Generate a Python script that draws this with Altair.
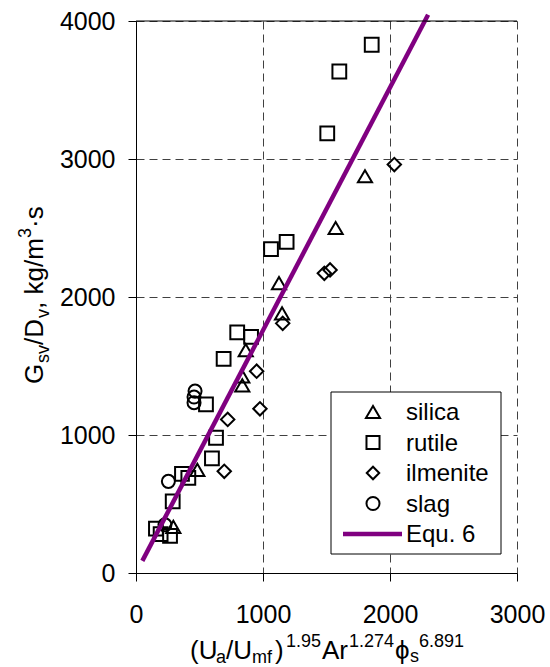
import altair as alt
import pandas as pd

# Measured points by bed material
silica_x = [294, 483, 837, 837, 864, 1126, 1150, 1572, 1803]
silica_y = [335, 747, 1360, 1425, 1615, 2100, 1881, 2500, 2875]

rutile_x = [157, 194, 268, 289, 362, 412, 598, 630, 551, 690, 797, 906, 1063, 1186, 1506, 1601, 1856]
rutile_y = [322, 281, 269, 519, 718, 689, 831, 980, 1222, 1551, 1743, 1711, 2347, 2400, 3185, 3634, 3828]

ilmenite_x = [695, 722, 950, 976, 1155, 1483, 1528, 2034]
ilmenite_y = [737, 1113, 1462, 1190, 1809, 2172, 2196, 2960]

slag_x = [228, 255, 457, 457, 465]
slag_y = [349, 664, 1234, 1275, 1318]

# Correlation line (Equ. 6), end points
equ6_x = [50, 2300]
equ6_y = [88, 4045]

materials = ["silica", "rutile", "ilmenite", "slag"]
shapes = ["triangle-up", "square", "diamond", "circle"]
sizes = [200, 170, 155, 170]
line_name = "Equ. 6"
x_ticks = [0, 1000, 2000, 3000]
y_ticks = [0, 1000, 2000, 3000, 4000]

FONT = "Liberation Sans"
W, H = 381, 552          # plot area
PX0, PY0 = 136, 21       # plot origin on the page
PURPLE = "#800080"

rows = []
for name, xs, ys in [("silica", silica_x, silica_y), ("rutile", rutile_x, rutile_y),
                     ("ilmenite", ilmenite_x, ilmenite_y), ("slag", slag_x, slag_y)]:
    rows += [{"x": a, "y": b, "material": name} for a, b in zip(xs, ys)]
points_df = pd.DataFrame(rows)
line_df = pd.DataFrame({"x": equ6_x, "y": equ6_y})

x_enc = alt.X("x:Q", scale=alt.Scale(domain=[0, 3000], nice=False, zero=False),
              axis=alt.Axis(values=x_ticks, format="d", title=None, labelFlush=False,
                            labelPadding=21, labelOverlap=False))
y_enc = alt.Y("y:Q", scale=alt.Scale(domain=[0, 4000], nice=False, zero=False),
              axis=alt.Axis(values=y_ticks, format="d", title=None, labelPadding=13,
                            labelOverlap=False))

points = alt.Chart(points_df).mark_point(
    filled=False, strokeWidth=2, color="black", opacity=1
).encode(
    x=x_enc, y=y_enc,
    shape=alt.Shape("material:N", scale=alt.Scale(domain=materials, range=shapes), legend=None),
    size=alt.Size("material:N", scale=alt.Scale(domain=materials, range=sizes), legend=None),
)

equ6 = alt.Chart(line_df).mark_line(strokeWidth=4.5, color=PURPLE, opacity=1).encode(x=x_enc, y=y_enc)

one = pd.DataFrame({"k": [0]})

# top frame line
frame_top = alt.Chart(one).mark_rule(color="black", strokeWidth=1).encode(
    x=alt.value(0), x2=alt.value(W), y=alt.value(0)
)


def piece(text, px, py, size, angle=0):
    return alt.Chart(pd.DataFrame({"t": [text]})).mark_text(
        align="left", baseline="alphabetic", font=FONT, fontSize=size,
        color="black", angle=angle,
    ).encode(x=alt.value(px - PX0), y=alt.value(py - PY0), text="t:N")


# legend box with symbol, line and label rows
LEG_L, LEG_T, LEG_R, LEG_B = 331, 392, 501, 554
row_y = [412, 442.5, 473, 503.5, 534]
SYM_X, TXT_X = 373, 406

legend_layers = [
    alt.Chart(one).mark_rect(fill="white", stroke="black", strokeWidth=1).encode(
        x=alt.value(LEG_L - PX0), x2=alt.value(LEG_R - PX0),
        y=alt.value(LEG_T - PY0), y2=alt.value(LEG_B - PY0),
    )
]
for i, (name, shp, sz) in enumerate(zip(materials, shapes, sizes)):
    legend_layers.append(
        alt.Chart(one).mark_point(shape=shp, filled=False, size=sz, strokeWidth=2,
                                  color="black", opacity=1).encode(
            x=alt.value(SYM_X - PX0), y=alt.value(row_y[i] - PY0))
    )
    legend_layers.append(piece(name, TXT_X, row_y[i] + 8, 24))
legend_layers.append(
    alt.Chart(one).mark_rule(color=PURPLE, strokeWidth=4.5).encode(
        x=alt.value(343 - PX0), x2=alt.value(402 - PX0), y=alt.value(row_y[4] - PY0))
)
legend_layers.append(piece(line_name, TXT_X, row_y[4] + 8, 24))

# x-axis title: (Ua/Umf)^1.95 Ar^1.274 phi_s^6.891
x_title = [
    piece("(U", 190, 659, 26), piece("a", 216, 663, 18), piece("/U", 226, 659, 26),
    piece("mf", 252, 663, 18), piece(")", 275, 659, 26), piece("1.95", 286, 647, 18),
    piece("Ar", 322, 659, 26), piece("1.274", 349, 647, 18), piece("ϕ", 395, 659, 26),
    piece("s", 410, 662, 18), piece("6.891", 419, 647, 18),
]
# y-axis title: G_sv/D_v, kg/m^3·s (rotated)
y_title = [
    piece("G", 43, 384, 26, 270), piece("sv", 49, 363, 18, 270), piece("/D", 43, 345, 26, 270),
    piece("v", 49, 318, 18, 270), piece(", kg/m", 43, 309, 26, 270), piece("3", 31, 238, 18, 270),
    piece("·s", 43, 228, 26, 270),
]

chart = alt.layer(points, equ6, frame_top, *legend_layers, *x_title, *y_title).properties(
    width=W, height=H,
    autosize=alt.AutoSizeParams(type="none"),
    padding={"left": PX0, "top": PY0, "right": 550 - PX0 - W, "bottom": 667 - PY0 - H},
    background="white",
).configure_view(stroke=None).configure_axis(
    domainColor="black", domainWidth=1, tickColor="black", tickWidth=1, tickSize=8,
    labelFont=FONT, labelFontSize=25, labelColor="black",
    gridColor="#404040", gridDash=[8, 5], gridWidth=1, grid=True,
)

chart.save("out.html", embed_options={"renderer": "svg", "actions": False})
